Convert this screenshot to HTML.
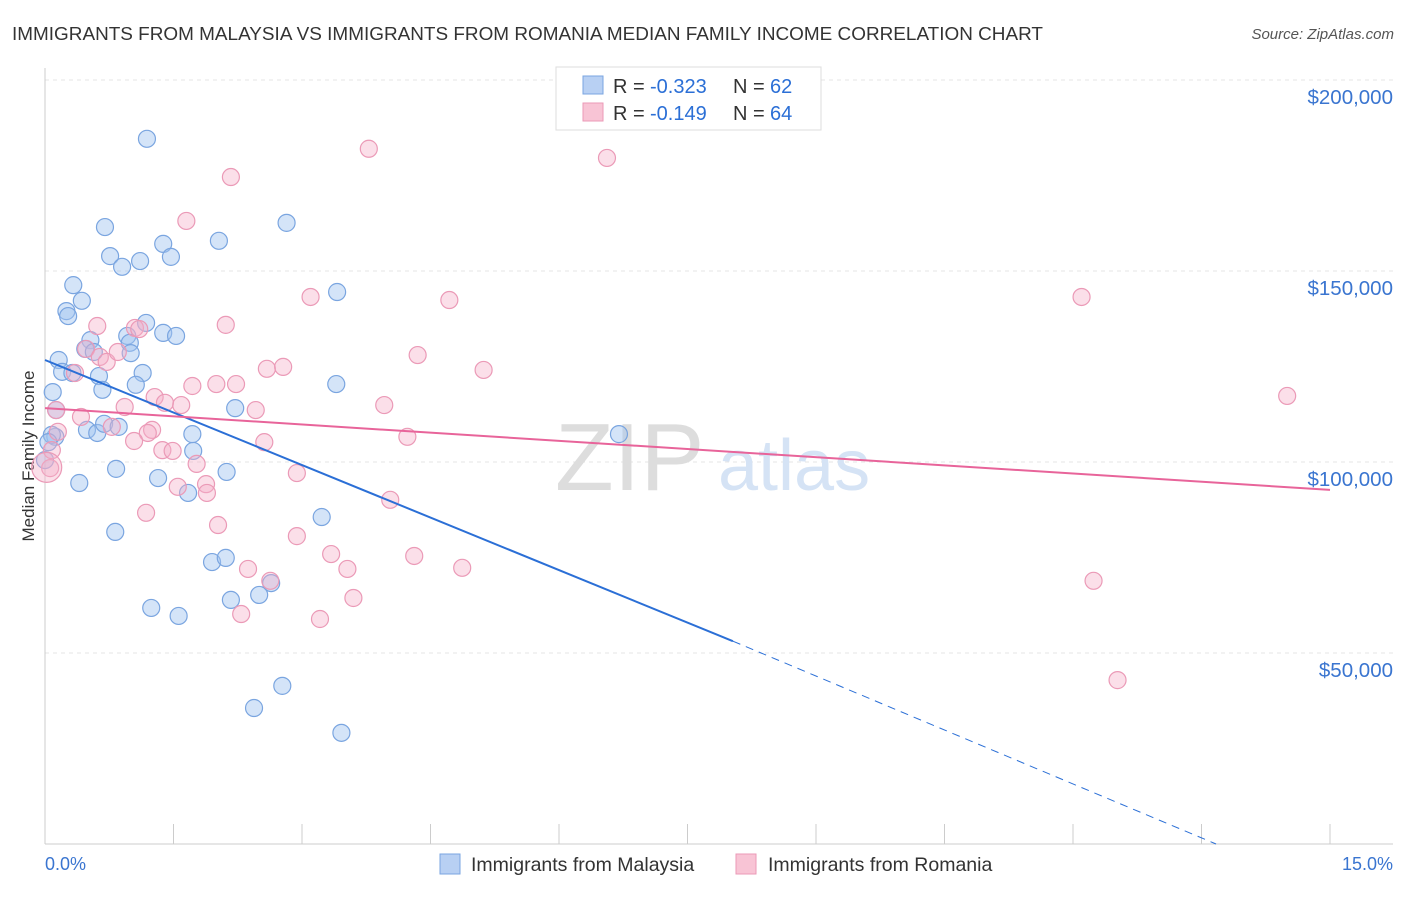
<!DOCTYPE html>
<html><head><meta charset="utf-8"><style>
body{margin:0;background:#fff;font-family:"Liberation Sans",sans-serif;}
svg text{font-family:"Liberation Sans",sans-serif;}
</style></head><body>
<svg id="chart" width="1406" height="892">
<text x="12" y="40" font-size="18.5" fill="#333" textLength="1031" lengthAdjust="spacingAndGlyphs">IMMIGRANTS FROM MALAYSIA VS IMMIGRANTS FROM ROMANIA MEDIAN FAMILY INCOME CORRELATION CHART</text>
<text x="1394" y="39" font-size="15" fill="#555" text-anchor="end" font-style="italic">Source: ZipAtlas.com</text>
<g id="grid"></g>
<text x="555" y="490" font-size="96" fill="#ddd" font-family="Liberation Serif">ZIP</text>
<text x="718" y="490" font-size="72" fill="#d5e3f5">atlas</text>
<line x1="45" y1="68" x2="45" y2="844" stroke="#ccc"/>
<line x1="45" y1="844" x2="1393" y2="844" stroke="#ccc"/>
<text transform="translate(34,456) rotate(-90)" font-size="17" fill="#333" text-anchor="middle">Median Family Income</text>
<text x="45" y="870" font-size="18" fill="#3a75d0">0.0%</text>
<text x="1393" y="870" font-size="18" fill="#3a75d0" text-anchor="end">15.0%</text>
<g id="pts"></g><g id="lines"></g>
<g>
<rect x="556" y="67" width="265" height="63" fill="#fff" stroke="#ddd"/>
<rect x="583" y="76" width="20" height="18" fill="#b8d0f3" stroke="#7aa5e0"/>
<rect x="583" y="103" width="20" height="18" fill="#f8c4d5" stroke="#eb9ab7"/>
<text x="613" y="93" font-size="20" fill="#333">R =</text>
<text x="650" y="93" font-size="20" fill="#2b6fd6">-0.323</text>
<text x="733" y="93" font-size="20" fill="#333">N =</text>
<text x="770" y="93" font-size="20" fill="#2b6fd6">62</text>
<text x="613" y="120" font-size="20" fill="#333">R =</text>
<text x="650" y="120" font-size="20" fill="#2b6fd6">-0.149</text>
<text x="733" y="120" font-size="20" fill="#333">N =</text>
<text x="770" y="120" font-size="20" fill="#2b6fd6">64</text>
</g>
<g>
<rect x="440" y="854" width="20" height="20" fill="#b8d0f3" stroke="#7aa5e0"/>
<text x="471" y="871" font-size="19.5" fill="#333">Immigrants from Malaysia</text>
<rect x="736" y="854" width="20" height="20" fill="#f8c4d5" stroke="#eb9ab7"/>
<text x="768" y="871" font-size="19.5" fill="#333">Immigrants from Romania</text>
</g>
</svg>
<script>
const yTicks=[50000,100000,150000,200000];
const yTickLabels=["$50,000","$100,000","$150,000","$200,000"];
const xTicks=[0,1.5,3,4.5,6,7.5,9,10.5,12,13.5,15];
const bluePct=[1.19,0.70,2.82,0.76,0.90,1.11,1.38,1.47,2.03,0.33,0.43,0.25,0.27,3.41,1.18,0.96,1.38,1.53,0.53,0.47,0.57,0.99,1.00,0.16,0.20,0.32,0.63,1.14,0.09,0.67,1.06,3.40,2.22,0.12,0.08,0.49,0.61,0.69,0.86,1.72,1.73,6.70,0.83,1.32,2.12,0.40,1.67,3.23,0.82,1.95,2.11,2.64,2.17,2.50,1.24,1.56,2.77,2.44,3.46,0.04,0.13,0.00];
const blueVal=[184.6,161.5,162.6,153.9,151.1,152.6,157.1,153.7,157.9,146.3,142.2,139.5,138.2,144.5,136.4,133.0,133.8,133.0,131.9,129.6,128.8,131.2,128.5,126.7,123.6,123.3,122.5,123.3,118.3,118.9,120.2,120.4,114.1,106.6,107.1,108.4,107.6,110.0,109.2,107.3,102.9,107.3,98.2,95.8,97.4,94.5,91.9,85.6,81.7,73.8,74.9,68.3,63.9,65.2,61.8,59.7,41.4,35.6,29.1,105.2,113.6,100.5];
const pinkPct=[3.78,6.56,2.17,1.65,3.10,4.72,12.10,0.61,2.11,1.05,1.10,0.48,0.64,0.72,0.85,4.35,5.12,2.59,2.78,0.35,1.72,2.00,2.23,0.13,0.93,1.28,1.40,1.59,2.46,3.96,14.50,0.42,0.78,1.25,0.15,1.20,1.04,2.56,4.23,0.08,1.37,1.49,1.77,2.94,0.06,1.55,1.88,1.89,4.03,1.18,2.02,2.94,3.34,4.31,2.37,3.53,4.87,2.63,12.24,3.60,2.29,3.21,12.52,0.02];
const pinkVal=[182.0,179.6,174.6,163.1,143.2,142.4,143.2,135.6,135.9,135.1,134.8,129.6,127.5,126.2,128.8,128.0,124.1,124.4,124.9,123.3,119.9,120.4,120.4,113.6,114.4,117.0,115.5,114.9,113.6,114.9,117.3,111.8,109.2,108.4,107.9,107.6,105.5,105.2,106.6,103.1,103.1,102.9,99.5,97.1,98.4,93.5,94.2,91.9,90.1,86.7,83.5,80.6,75.9,75.4,72.0,72.0,72.3,68.9,68.9,64.4,60.2,58.9,42.9,98.6];
const blueLine=[[0,126.7],[8.03,53.1],[13.67,0]];
const pinkLine=[[0,114.1],[15,92.7]];
const NS="http://www.w3.org/2000/svg";
const xs=p=>45+p*(1330-45)/15;
const ys=v=>844-v*191/50000;
const ysk=k=>ys(k*1000);
function mk(t,a,p){const e=document.createElementNS(NS,t);for(const k in a)e.setAttribute(k,a[k]);p.appendChild(e);return e;}
const grid=document.getElementById('grid');
yTicks.forEach((v,i)=>{
 const l=mk('line',{x1:45,x2:1393,y1:ys(v),y2:ys(v),stroke:'#e4e4e4','stroke-dasharray':'4,4'},grid);
 
 
 const t=mk('text',{x:1393,y:ys(v)+24,'font-size':20.5,fill:'#3a75d0','text-anchor':'end'},grid);
 t.textContent=yTickLabels[i];
 
 
});
xTicks.forEach(p=>{
 const l=mk('line',{x1:xs(p),x2:xs(p),y1:824,y2:844,stroke:'#ccc'},grid);
 
 
});
const pts=document.getElementById('pts');
bluePct.forEach((p,i)=>{
 const c=mk('circle',{cx:xs(p),cy:ysk(blueVal[i]),r:8.5,fill:'rgba(160,195,240,0.45)',stroke:'#7aa5e0','stroke-width':1.2},pts);
 
 
});
pinkPct.forEach((p,i)=>{
 const big=i===pinkPct.length-1;
 const c=mk('circle',{cx:xs(p),cy:ysk(pinkVal[i]),r:big?15:8.5,fill:'rgba(245,175,200,0.4)',stroke:'#eb9ab7','stroke-width':1.2},pts);
 
 
});
const lines=document.getElementById('lines');
const b1=mk('line',{x1:xs(blueLine[0][0]),y1:ysk(blueLine[0][1]),x2:xs(blueLine[1][0]),y2:ysk(blueLine[1][1]),stroke:'#2b6fd6','stroke-width':2},lines);


const b2=mk('line',{x1:xs(blueLine[1][0]),y1:ysk(blueLine[1][1]),x2:xs(blueLine[2][0]),y2:ysk(blueLine[2][1]),stroke:'#2b6fd6','stroke-width':1,'stroke-dasharray':'8,6'},lines);


const p1=mk('line',{x1:xs(pinkLine[0][0]),y1:ysk(pinkLine[0][1]),x2:xs(pinkLine[1][0]),y2:ysk(pinkLine[1][1]),stroke:'#e8649a','stroke-width':2},lines);


</script>
</body></html>
